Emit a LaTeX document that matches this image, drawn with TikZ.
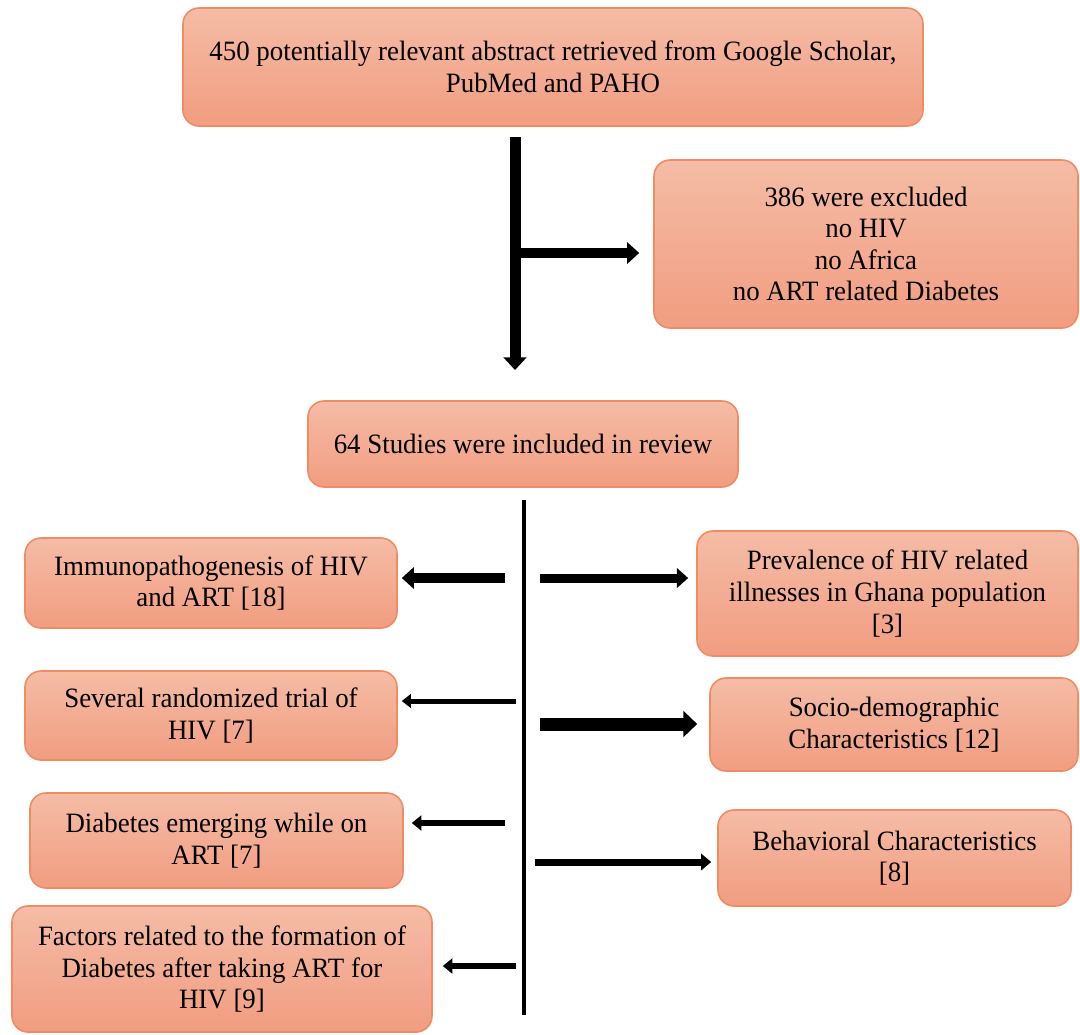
\documentclass[tikz,border=0pt]{standalone}
\usepackage{fontspec}
\setmainfont{Liberation Serif}[FakeStretch=0.96]
\usepackage{tikz}
\usetikzlibrary{arrows.meta, positioning, shadings}
\definecolor{boxtop}{RGB}{245,188,166}
\definecolor{boxbot}{RGB}{241,157,128}
\definecolor{boxline}{RGB}{240,140,100}
\tikzset{
  box/.style={draw=boxline, line width=0.8pt, rounded corners=8pt,
    top color=boxtop, bottom color=boxbot, align=center,
    font=\fontsize{14}{15.8}\selectfont, inner sep=2pt},
  arr/.style={line width=#1, -{Triangle[length=3pt 0.6, width=3pt 1.5]}}
}
\begin{document}
\begin{tikzpicture}[x=0.5pt,y=-0.5pt]
    \useasboundingbox (0,0) rectangle (1080,1034);
    % boxes
    \node[box, minimum width=370pt, minimum height=59pt] (abstr) at (553,67)
      {450 potentially relevant abstract retrieved from Google Scholar,\\ PubMed and PAHO};
    \node[box, minimum width=212pt, minimum height=84pt] (excl) at (866,244)
      {386 were excluded\\ no HIV\\ no Africa\\ no ART related Diabetes};
    \node[box, minimum width=215pt, minimum height=43pt] (incl) at (523,444)
      {64 Studies were included in review};
    \node[box, minimum width=186pt, minimum height=45pt] (immuno) at (211,583)
      {Immunopathogenesis of HIV\\ and ART [18]};
    \node[box, minimum width=186pt, minimum height=44.5pt] (trial) at (211,715.5)
      {Several randomized trial of\\ HIV [7]};
    \node[box, minimum width=186.5pt, minimum height=47.5pt] (emerg) at (216.5,840.5)
      {Diabetes emerging while on\\ ART [7]};
    \node[box, minimum width=210pt, minimum height=63pt] (factor) at (222,969)
      {Factors related to the formation of\\ Diabetes after taking ART for\\ HIV [9]};
    \node[box, minimum width=190.5pt, minimum height=62.5pt] (preval) at (887.5,593.5)
      {Prevalence of HIV related\\ illnesses in Ghana population\\ {[3]}};
    \node[box, minimum width=184pt, minimum height=46.5pt] (socio) at (894,724.5)
      {Socio-demographic\\ Characteristics [12]};
    \node[box, minimum width=176.5pt, minimum height=48pt] (behav) at (894.5,858)
      {Behavioral Characteristics\\ {[8]}};
    % upper part
    \coordinate (down1) at (515,137);
    \coordinate (down2) at (515,370);
    \coordinate (side1) at (520,253);
    \draw[arr=5.5pt] (down1) -- (down2);
    \draw[arr=5pt] (side1) -- ([xshift=-7pt]excl.west |- side1);
    % spine
    \coordinate (spine1) at (524,500);
    \coordinate (spine2) at (524,1015);
    \draw[line width=2pt] (spine1) -- (spine2);
    % left branches
    \coordinate (l1) at (505,578);
    \coordinate (l2) at (516,701);
    \coordinate (l3) at (505,823);
    \coordinate (l4) at (516,966);
    \draw[arr=5pt] (l1) -- ([xshift=2pt]immuno.east |- l1);
    \draw[arr=2.5pt] (l2) -- ([xshift=2pt]trial.east |- l2);
    \draw[arr=3pt] (l3) -- ([xshift=4pt]emerg.east |- l3);
    \draw[arr=3pt] (l4) -- ([xshift=5pt]factor.east |- l4);
    % right branches
    \coordinate (r1) at (540,578);
    \coordinate (r2) at (540,724);
    \coordinate (r3) at (535,862);
    \draw[arr=4.5pt] (r1) -- ([xshift=-4pt]preval.west |- r1);
    \draw[arr=6.5pt] (r2) -- ([xshift=-6pt]socio.west |- r2);
    \draw[arr=3.5pt] (r3) -- ([xshift=-3pt]behav.west |- r3);
\end{tikzpicture}
\end{document}
